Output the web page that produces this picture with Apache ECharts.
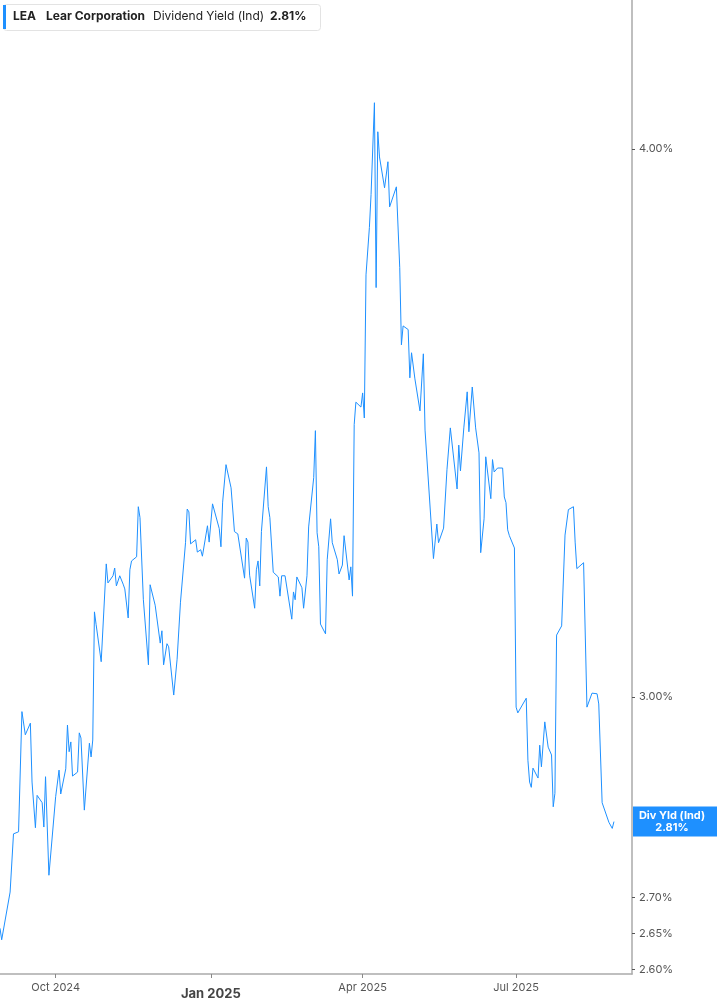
<!DOCTYPE html>
<html>
<head>
<meta charset="utf-8">
<script src="https://cdn.jsdelivr.net/npm/echarts@6/dist/echarts.min.js"></script>
<style>
  html, body { margin: 0; padding: 0; background: #fff; }
  #chart { width: 717px; height: 1005px; }
</style>
</head>
<body>
<div id="chart"></div>
<script>
// Chart Data
const dates = [
  "2024-08-29", "2024-08-30", "2024-09-04", "2024-09-05", "2024-09-06", "2024-09-09",
  "2024-09-11", "2024-09-13", "2024-09-16", "2024-09-17", "2024-09-18", "2024-09-19",
  "2024-09-20", "2024-09-23", "2024-09-24", "2024-09-25", "2024-09-27", "2024-10-01",
  "2024-10-02", "2024-10-03", "2024-10-04", "2024-10-07", "2024-10-08", "2024-10-09",
  "2024-10-10", "2024-10-11", "2024-10-14", "2024-10-15", "2024-10-16", "2024-10-18",
  "2024-10-21", "2024-10-22", "2024-10-23", "2024-10-24", "2024-10-25", "2024-10-28",
  "2024-10-31", "2024-11-01", "2024-11-04", "2024-11-05", "2024-11-06", "2024-11-07",
  "2024-11-08", "2024-11-10", "2024-11-11", "2024-11-13", "2024-11-14", "2024-11-15",
  "2024-11-18", "2024-11-19", "2024-11-20", "2024-11-22", "2024-11-25", "2024-11-26",
  "2024-11-29", "2024-12-02", "2024-12-03", "2024-12-04", "2024-12-06", "2024-12-07",
  "2024-12-10", "2024-12-11", "2024-12-12", "2024-12-14", "2024-12-17", "2024-12-18",
  "2024-12-19", "2024-12-20", "2024-12-23", "2024-12-24", "2024-12-26", "2024-12-27",
  "2024-12-30", "2024-12-31", "2025-01-02", "2025-01-06", "2025-01-07", "2025-01-08",
  "2025-01-10", "2025-01-13", "2025-01-15", "2025-01-17", "2025-01-21", "2025-01-22",
  "2025-01-23", "2025-01-24", "2025-01-27", "2025-01-28", "2025-01-29", "2025-01-30",
  "2025-01-31", "2025-02-03", "2025-02-04", "2025-02-05", "2025-02-07", "2025-02-10",
  "2025-02-11", "2025-02-12", "2025-02-14", "2025-02-18", "2025-02-19", "2025-02-20",
  "2025-02-21", "2025-02-24", "2025-02-25", "2025-02-27", "2025-02-28", "2025-03-03",
  "2025-03-04", "2025-03-05", "2025-03-06", "2025-03-07", "2025-03-10", "2025-03-11",
  "2025-03-13", "2025-03-14", "2025-03-17", "2025-03-18", "2025-03-20", "2025-03-21",
  "2025-03-24", "2025-03-25", "2025-03-26", "2025-03-27", "2025-03-28", "2025-03-31",
  "2025-04-01", "2025-04-02", "2025-04-03", "2025-04-05", "2025-04-06", "2025-04-08",
  "2025-04-09", "2025-04-10", "2025-04-11", "2025-04-14", "2025-04-16", "2025-04-17",
  "2025-04-21", "2025-04-23", "2025-04-24", "2025-04-25", "2025-04-28", "2025-04-29",
  "2025-04-30", "2025-05-01", "2025-05-02", "2025-05-05", "2025-05-07", "2025-05-08",
  "2025-05-13", "2025-05-15", "2025-05-16", "2025-05-19", "2025-05-21", "2025-05-23",
  "2025-05-27", "2025-05-28", "2025-05-29", "2025-05-31", "2025-06-02", "2025-06-03",
  "2025-06-05", "2025-06-07", "2025-06-09", "2025-06-10", "2025-06-12", "2025-06-13",
  "2025-06-16", "2025-06-17", "2025-06-18", "2025-06-20", "2025-06-23", "2025-06-24",
  "2025-06-25", "2025-06-26", "2025-06-27", "2025-06-30", "2025-07-01", "2025-07-02",
  "2025-07-07", "2025-07-08", "2025-07-09", "2025-07-10", "2025-07-11", "2025-07-14",
  "2025-07-15", "2025-07-16", "2025-07-18", "2025-07-20", "2025-07-22", "2025-07-23",
  "2025-07-24", "2025-07-25", "2025-07-28", "2025-07-30", "2025-07-31", "2025-08-01",
  "2025-08-04", "2025-08-05", "2025-08-06", "2025-08-10", "2025-08-12", "2025-08-13",
  "2025-08-15", "2025-08-18", "2025-08-19", "2025-08-20", "2025-08-21", "2025-08-25",
  "2025-08-26", "2025-08-27", "2025-08-28"
];

// dividend yield, %
const yields = [
  2.657, 2.641, 2.708, 2.709, 2.792, 2.795,
  2.977, 2.941, 2.959, 2.869, 2.872, 2.801,
  2.849, 2.838, 2.802, 2.877, 2.732, 2.847,
  2.847, 2.887, 2.851, 2.889, 2.956, 2.915,
  2.930, 2.878, 2.884, 2.944, 2.936, 2.827,
  2.928, 2.907, 2.933, 3.137, 3.116, 3.056,
  3.217, 3.185, 3.197, 3.210, 3.180, 3.177,
  3.197, 3.183, 3.175, 3.127, 3.207, 3.222,
  3.229, 3.315, 3.296, 3.157, 3.051, 3.182,
  3.148, 3.086, 3.106, 3.051, 3.085, 3.080,
  3.003, 3.000, 3.060, 3.153, 3.253, 3.311,
  3.306, 3.251, 3.258, 3.237, 3.241, 3.230,
  3.282, 3.254, 3.320, 3.277, 3.246, 3.323,
  3.389, 3.348, 3.272, 3.268, 3.193, 3.261,
  3.254, 3.198, 3.143, 3.207, 3.222, 3.180,
  3.272, 3.385, 3.315, 3.296, 3.203, 3.195,
  3.163, 3.197, 3.197, 3.125, 3.170, 3.157,
  3.195, 3.177, 3.143, 3.197, 3.280, 3.366,
  3.450, 3.270, 3.246, 3.117, 3.101, 3.224,
  3.294, 3.253, 3.224, 3.200, 3.215, 3.265,
  3.190, 3.212, 3.163, 3.461, 3.502, 3.493,
  3.519, 3.473, 3.744, 3.838, 3.905, 4.098,
  3.719, 4.036, 3.983, 3.919, 3.973, 3.880,
  3.921, 3.758, 3.609, 3.645, 3.638, 3.547,
  3.594, 3.592, 3.545, 3.486, 3.592, 3.451,
  3.226, 3.285, 3.253, 3.278, 3.380, 3.455,
  3.346, 3.424, 3.378, 3.455, 3.521, 3.448,
  3.530, 3.455, 3.410, 3.236, 3.294, 3.403,
  3.329, 3.398, 3.376, 3.383, 3.383, 3.332,
  3.322, 3.275, 3.265, 3.244, 2.984, 2.975,
  2.998, 2.902, 2.869, 2.861, 2.890, 2.875,
  2.925, 2.892, 2.961, 2.922, 2.910, 2.832,
  2.852, 3.099, 3.114, 3.266, 3.268, 3.310,
  3.315, 3.254, 3.209, 3.219, 2.984, 2.983,
  3.006, 3.005, 2.989, 2.989, 2.838, 2.809,
  2.807, 2.800, 2.810
];

const xTickDates = ["2024-10-01", "2025-01-01", "2025-04-01", "2025-07-01"];
const yTickValues = [2.6, 2.65, 2.7, 3.0, 4.0];
const monthNames = ["Jan", "Feb", "Mar", "Apr", "May", "Jun", "Jul", "Aug", "Sep", "Oct", "Nov", "Dec"];

const lastYield = yields[yields.length - 1];
const lineColor = "#1e90ff";

const toTime = (s) => +echarts.time.parse(s);
const xTicks = xTickDates.map(toTime);

// Chart Functionalities
const chart = echarts.init(document.getElementById("chart"), null, { renderer: "canvas" });

const option = {
  animation: false,
  textStyle: { fontFamily: "Inter, 'Noto Sans', sans-serif" },
  grid: { left: 0, right: 85, top: 0, bottom: 31, containLabel: false },
  xAxis: {
    type: "value",
    min: toTime("2024-08-29"),
    max: toTime("2025-09-07 17:00:00"),
    axisLine: { show: true, onZero: false, lineStyle: { color: "#aaaaaa", width: 1.5 } },
    axisTick: {
      show: true,
      customValues: xTicks,
      length: 4,
      lineStyle: { color: "#888" },
    },
    splitLine: { show: false },
    axisLabel: {
      customValues: xTicks,
      margin: 8,
      color: "#555",
      fontSize: 11,
      formatter: function (value) {
        const d = new Date(value);
        const txt = monthNames[d.getMonth()] + " " + d.getFullYear();
        return d.getMonth() === 0 ? "{y|" + txt + "}" : txt;
      },
      rich: {
        y: { fontSize: 13, fontWeight: "bold", color: "#444", padding: [6, 0, 0, 0] },
      },
    },
  },
  yAxis: {
    type: "log",
    logBase: 10,
    position: "right",
    min: 2.594,
    max: 4.325,
    axisLine: { show: true, lineStyle: { color: "#aaaaaa", width: 1.5 } },
    axisTick: {
      show: true,
      customValues: yTickValues,
      length: 3,
      lineStyle: { color: "#555" },
    },
    splitLine: { show: false },
    axisLabel: {
      customValues: yTickValues,
      margin: 7,
      color: "#555",
      fontSize: 11,
      formatter: function (v) {
        return v.toFixed(2) + "%";
      },
    },
  },
  series: [
    {
      name: "Div Yld (Ind)",
      type: "line",
      data: dates.map((d, i) => [toTime(d), yields[i]]),
      showSymbol: false,
      lineStyle: { color: lineColor, width: 1 },
      itemStyle: { color: lineColor },
      clip: true,
      markLine: {
        silent: true,
        symbol: "none",
        lineStyle: { color: "rgba(0,0,0,0)", width: 1, type: "solid" },
        data: [{ yAxis: lastYield }],
        label: {
          show: true,
          position: "end",
          distance: 1,
          formatter: "{t|Div Yld (Ind)}\n{t|" + lastYield.toFixed(2) + "%}",
          backgroundColor: lineColor,
          align: "left",
          verticalAlign: "middle",
          padding: [3, 14, 3, 6],
          rich: {
            t: {
              width: 66,
              align: "center",
              color: "#fff",
              fontWeight: "bold",
              fontSize: 11,
              lineHeight: 12,
            },
          },
        },
      },
    },
  ],
  graphic: [
    {
      type: "rect",
      left: 3,
      top: 4,
      shape: { width: 317, height: 26, r: 3 },
      style: { fill: "#fff", stroke: "#e3e3e3", lineWidth: 1 },
    },
    {
      type: "rect",
      left: 3,
      top: 5,
      shape: { width: 3, height: 24 },
      style: { fill: lineColor },
    },
    {
      type: "text",
      left: 13,
      top: 10,
      style: { text: "LEA", font: "bold 12px Inter", fill: "#222" },
    },
    {
      type: "text",
      left: 46,
      top: 10,
      style: { text: "Lear Corporation", font: "bold 12px Inter", fill: "#222" },
    },
    {
      type: "text",
      left: 153,
      top: 10,
      style: { text: "Dividend Yield (Ind)", font: "12px Inter", fill: "#222" },
    },
    {
      type: "text",
      left: 270,
      top: 10,
      style: { text: lastYield.toFixed(2) + "%", font: "bold 12px Inter", fill: "#222" },
    },
  ],
};

chart.setOption(option);
</script>
</body>
</html>
